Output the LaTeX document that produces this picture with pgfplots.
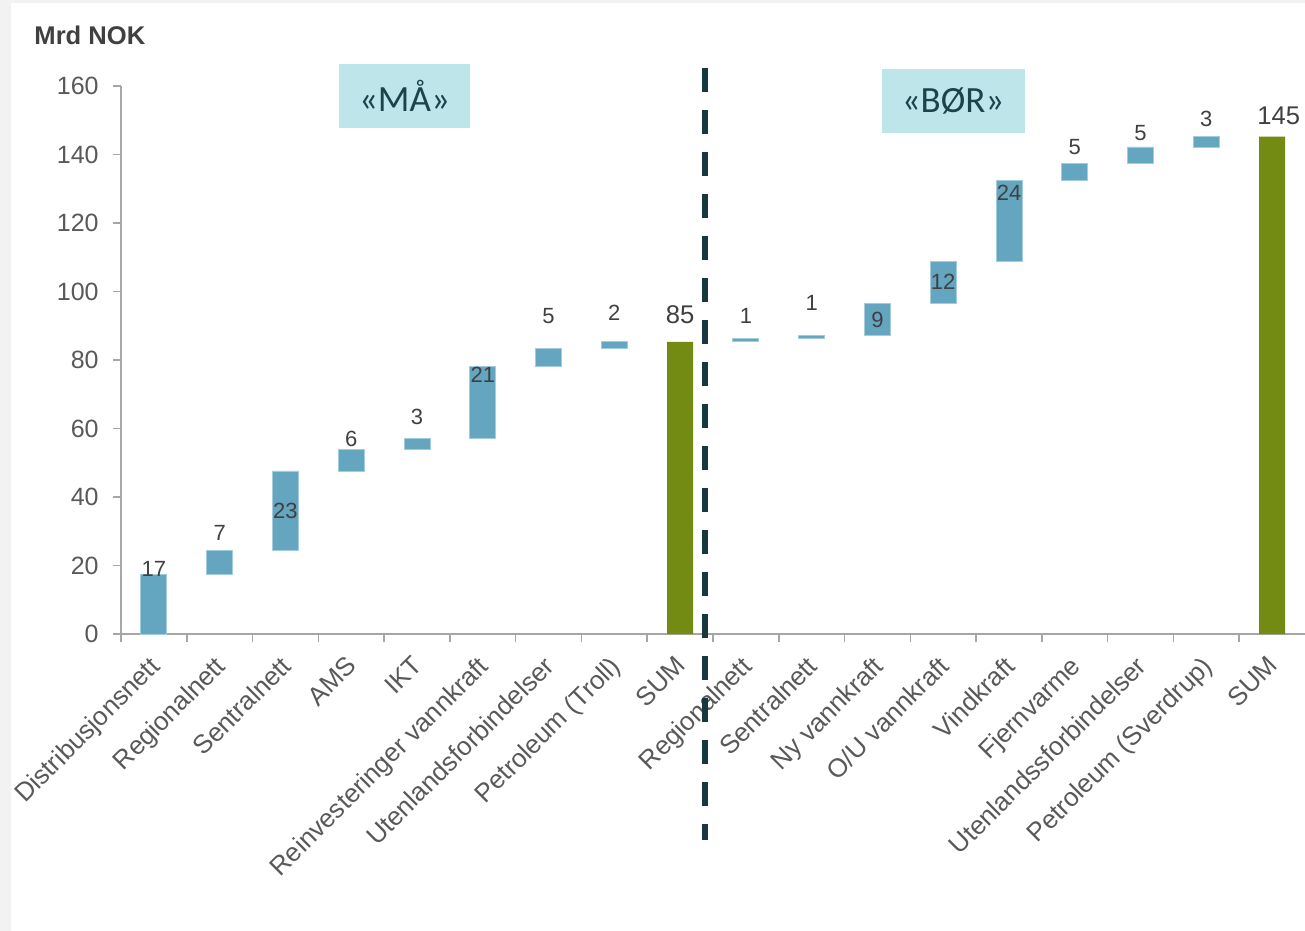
\documentclass[border=0pt]{standalone}
\usepackage{fontspec}
\setmainfont{Liberation Sans}
\newfontfamily\carlito{Carlito}
\usepackage{pgfplots}
\usepackage{pgfplotstable}
\pgfplotsset{compat=1.18}
\definecolor{barblue}{HTML}{64A5C0}
\definecolor{baredge}{HTML}{A3CCDD}
\definecolor{bargreen}{HTML}{738B12}
\definecolor{boxfill}{HTML}{BEE6EA}
\definecolor{boxtext}{HTML}{1B434B}
\definecolor{dashcol}{HTML}{17383F}
\definecolor{axisgrey}{HTML}{A6A6A6}
\definecolor{ticklabel}{HTML}{595959}
\definecolor{datalabel}{HTML}{404040}
\definecolor{bggrey}{HTML}{F2F2F2}

\pgfplotstableread{
x base blue green
0 0 17.3 0
1 17.3 7.0 0
2 24.3 23.3 0
3 47.6 6.4 0
4 54.0 3.2 0
5 57.2 21.0 0
6 78.2 5.2 0
7 83.4 1.9 0
8 0 0 85.3
9 85.5 0.9 0
10 86.4 0.8 0
11 87.2 9.3 0
12 96.5 12.2 0
13 108.7 23.7 0
14 132.4 4.9 0
15 137.3 4.9 0
16 142.2 3.0 0
17 0 0 145.2
}\bars

\pgfplotstableread{
x ly label
0 19.0 17
1 29.5 7
2 35.8 23
3 57.0 6
4 63.4 3
5 75.7 21
6 92.8 5
7 93.7 2
9 92.8 1
10 96.6 1
11 91.8 9
12 102.7 12
13 128.7 24
14 142.3 5
15 146.4 5
16 150.5 3
}\dlabels

\pgfplotstableread{
x ly label
8 93.3 85
17.1 151.3 145
}\sumlabels

\begin{document}
\begin{tikzpicture}
\fill[bggrey] (-60.5bp,-148.5bp) rectangle (592bp,317bp);
\fill[white] (-55bp,-148.5bp) rectangle (592bp,315.5bp);
\useasboundingbox (-60.5bp,-148.5bp) rectangle (592bp,317bp);
\begin{axis}[
  at={(0,0)}, anchor=south west, scale only axis,
  width=592bp, height=274bp,
  xmin=-0.5, xmax=17.5, ymin=0, ymax=160,
  ybar stacked, bar width=13bp,
  axis x line*=bottom, axis y line*=left,
  axis line style={draw=axisgrey, line width=0.75bp},
  ytick={0,20,...,160},
  xtick={-0.5,0.5,...,16.5},
  xticklabels={},
  tick align=outside,
  major tick length=4bp,
  tick style={draw=axisgrey, line width=0.75bp},
  extra x ticks={0,...,17},
  extra x tick labels={Distribusjonsnett, Regionalnett, Sentralnett, AMS, IKT, Reinvesteringer vannkraft, Utenlandsforbindelser, Petroleum (Troll), SUM, Regionalnett, Sentralnett, Ny vannkraft, O/U vannkraft, Vindkraft, Fjernvarme, Utenlandssforbindelser, Petroleum (Sverdrup), SUM},
  extra x tick style={major tick length=0pt},
  tick label style={text=ticklabel},
  yticklabel style={font=\fontsize{12.5bp}{14bp}\selectfont, inner sep=0pt, xshift=-7bp},
  xticklabel style={font=\fontsize{13bp}{15bp}\selectfont, xshift=-3bp, yshift=-10bp, rotate=45, anchor=north east, inner sep=0pt},
  /pgf/number format/assume math mode=true,
  clip=false,
]
\addplot[fill=none, draw=none] table[x=x, y=base] {\bars};
\addplot[fill=barblue, draw=baredge, line width=0.4bp] table[x=x, y=blue] {\bars};
\addplot[fill=bargreen, draw=none] table[x=x, y=green] {\bars};
\end{axis}
\begin{axis}[
  at={(0,0)}, anchor=south west, scale only axis,
  width=592bp, height=274bp,
  xmin=-0.5, xmax=17.5, ymin=0, ymax=160,
  hide axis, clip=false,
]
\addplot[only marks, mark=text, text mark={},
  nodes near coords, point meta=explicit symbolic,
  nodes near coords style={anchor=center, inner sep=0pt, text=datalabel, font=\fontsize{11bp}{12bp}\selectfont}]
  table[x=x, y=ly, meta=label] {\dlabels};
\addplot[only marks, mark=text, text mark={},
  nodes near coords, point meta=explicit symbolic,
  nodes near coords style={anchor=center, inner sep=0pt, text=datalabel, font=\fontsize{12.8bp}{14bp}\selectfont}]
  table[x=x, y=ly, meta=label] {\sumlabels};
\draw[dashcol, line width=2.8bp, dash pattern=on 12bp off 9bp] (axis cs:8.375,165.3) -- (axis cs:8.375,-60.2);
\node[fill=boxfill, text=boxtext, minimum width=65.5bp, minimum height=32bp, inner sep=0pt, font=\carlito\fontsize{18.5bp}{22bp}\selectfont] at (axis cs:3.81,157.1) {«MÅ»};
\node[fill=boxfill, text=boxtext, minimum width=71.5bp, minimum height=32bp, inner sep=0pt, font=\carlito\fontsize{18.5bp}{22bp}\selectfont] at (axis cs:12.15,155.6) {«BØR»};
\node[anchor=west, inner sep=0pt, text=datalabel, font=\bfseries\fontsize{12.8bp}{14bp}\selectfont] at (axis cs:-1.822,174.9) {Mrd NOK};
\end{axis}
\end{tikzpicture}
\end{document}
